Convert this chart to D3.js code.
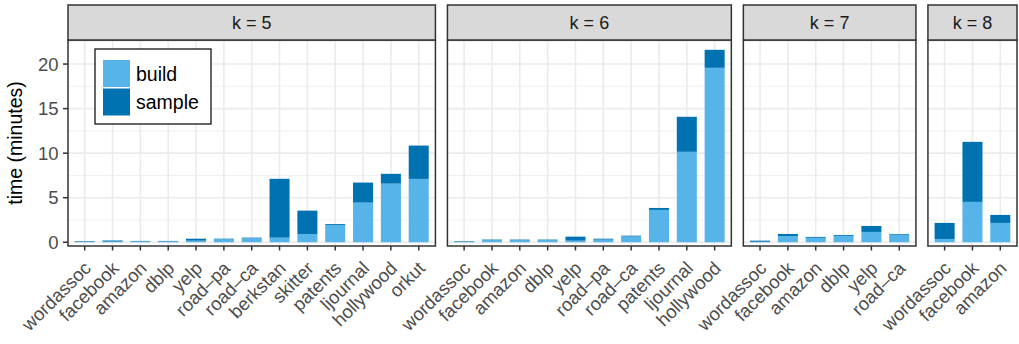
<!DOCTYPE html>
<html lang="en">
<head>
<meta charset="UTF-8">
<title>build / sample time by k</title>
<script src="https://d3js.org/d3.v7.min.js"></script>
<style>
  body { margin: 0; background: #fff; }
  text { font-family: "Liberation Sans", Arial, sans-serif; }
  .tick-label { fill: #4d4d4d; font-size: 18.5px; }
  .strip-label { fill: #1a1a1a; font-size: 18px; }
  .axis-title { fill: #000; font-size: 19.5px; }
  .legend-label { fill: #000; font-size: 19.5px; }
</style>
</head>
<body>
<script>
// ---- data (minutes) ----
var panels = ["k = 5", "k = 6", "k = 7", "k = 8"];

var cats5 = ["wordassoc", "facebook", "amazon", "dblp", "yelp", "road\u2013pa", "road\u2013ca",
             "berkstan", "skitter", "patents", "ljournal", "hollywood", "orkut"];
var build5  = [0.03, 0.08, 0.10, 0.10, 0.18, 0.33, 0.45, 0.52, 0.93, 1.95, 4.45, 6.58, 7.11];
var sample5 = [0.07, 0.12, 0.05, 0.05, 0.22, 0.07, 0.07, 6.60, 2.62, 0.10, 2.25, 1.10, 3.74];

var cats6 = ["wordassoc", "facebook", "amazon", "dblp", "yelp", "road\u2013pa", "road\u2013ca",
             "patents", "ljournal", "hollywood"];
var build6  = [0.03, 0.22, 0.22, 0.22, 0.18, 0.30, 0.65, 3.63, 10.15, 19.58];
var sample6 = [0.07, 0.08, 0.08, 0.08, 0.45, 0.10, 0.09, 0.22, 3.93, 2.02];

var cats7 = ["wordassoc", "facebook", "amazon", "dblp", "yelp", "road\u2013ca"];
var build7  = [0.05, 0.70, 0.50, 0.72, 1.16, 0.85];
var sample7 = [0.13, 0.23, 0.10, 0.10, 0.67, 0.08];

var cats8 = ["wordassoc", "facebook", "amazon"];
var build8  = [0.37, 4.53, 2.17];
var sample8 = [1.80, 6.74, 0.90];

var yTicks = [0, 5, 10, 15, 20];
var yMinor = [2.5, 7.5, 12.5, 17.5, 22.5];
var seriesNames = ["build", "sample"];
var colors = {build: "#56B4E9", sample: "#0072B2"};

var facetData = [
  {label: panels[0], cats: cats5, build: build5, sample: sample5},
  {label: panels[1], cats: cats6, build: build6, sample: sample6},
  {label: panels[2], cats: cats7, build: build7, sample: sample7},
  {label: panels[3], cats: cats8, build: build8, sample: sample8}
];

// ---- layout ----
var W = 1019, H = 344;
var plotLeft = 68, plotRight = 1017, gap = 12;
var stripTop = 5, stripH = 35;
var panelTop = stripTop + stripH, panelBottom = 246;
var expandCat = 0.6;

var svg = d3.select("body").append("svg")
  .attr("width", W).attr("height", H);

var y = d3.scaleLinear().domain([-0.42, 22.7]).range([panelBottom, panelTop]);

var units = facetData.map(function (f) { return f.cats.length - 1 + 2 * expandCat; });
var totalUnits = d3.sum(units);
var unitPx = (plotRight - plotLeft - gap * (facetData.length - 1)) / totalUnits;

var x0 = plotLeft;
facetData.forEach(function (f, i) {
  var pw = units[i] * unitPx;
  var g = svg.append("g").attr("transform", "translate(" + x0 + ",0)");

  var x = d3.scalePoint().domain(f.cats)
    .range([expandCat * unitPx, pw - expandCat * unitPx]);
  var barW = unitPx * 0.72;

  // panel background + grid
  g.append("rect").attr("x", 0).attr("y", panelTop).attr("width", pw)
    .attr("height", panelBottom - panelTop).attr("fill", "#fff");

  g.selectAll(".minor").data(yMinor).enter().append("line")
    .attr("x1", 0).attr("x2", pw)
    .attr("y1", function (d) { return y(d); }).attr("y2", function (d) { return y(d); })
    .attr("stroke", "#ebebeb").attr("stroke-width", 0.8);
  g.selectAll(".major").data(yTicks).enter().append("line")
    .attr("x1", 0).attr("x2", pw)
    .attr("y1", function (d) { return y(d); }).attr("y2", function (d) { return y(d); })
    .attr("stroke", "#ebebeb").attr("stroke-width", 1.6);
  g.selectAll(".vgrid").data(f.cats).enter().append("line")
    .attr("x1", function (d) { return x(d); }).attr("x2", function (d) { return x(d); })
    .attr("y1", panelTop).attr("y2", panelBottom)
    .attr("stroke", "#ebebeb").attr("stroke-width", 1.6);

  // stacked bars
  var rows = f.cats.map(function (c, j) { return {cat: c, build: f.build[j], sample: f.sample[j]}; });
  var stack = d3.stack().keys(seriesNames)(rows);
  stack.forEach(function (layer) {
    g.selectAll(".bar-" + layer.key).data(layer).enter().append("rect")
      .attr("x", function (d) { return x(d.data.cat) - barW / 2; })
      .attr("width", barW)
      .attr("y", function (d) { return y(d[1]); })
      .attr("height", function (d) { return y(d[0]) - y(d[1]); })
      .attr("fill", colors[layer.key]);
  });

  // panel border
  g.append("rect").attr("x", 0).attr("y", panelTop).attr("width", pw)
    .attr("height", panelBottom - panelTop)
    .attr("fill", "none").attr("stroke", "#333").attr("stroke-width", 1.5);

  // strip
  g.append("rect").attr("x", 0).attr("y", stripTop).attr("width", pw).attr("height", stripH)
    .attr("fill", "#d9d9d9").attr("stroke", "#333").attr("stroke-width", 1.5);
  g.append("text").attr("class", "strip-label")
    .attr("x", pw / 2).attr("y", stripTop + stripH / 2).attr("dy", "0.36em")
    .attr("text-anchor", "middle").text(f.label);

  // x axis ticks + labels
  g.selectAll(".xtick").data(f.cats).enter().append("line")
    .attr("x1", function (d) { return x(d); }).attr("x2", function (d) { return x(d); })
    .attr("y1", panelBottom).attr("y2", panelBottom + 4.5)
    .attr("stroke", "#333").attr("stroke-width", 1.5);
  g.selectAll(".xlab").data(f.cats).enter().append("text")
    .attr("class", "tick-label")
    .attr("text-anchor", "end")
    .attr("transform", function (d) { return "translate(" + (x(d) - 2) + "," + (panelBottom + 14) + ") rotate(-45)"; })
    .attr("dy", "0.72em")
    .text(function (d) { return d; });

  // y axis on first panel only
  if (i === 0) {
    g.selectAll(".ytick").data(yTicks).enter().append("line")
      .attr("x1", -5).attr("x2", 0)
      .attr("y1", function (d) { return y(d); }).attr("y2", function (d) { return y(d); })
      .attr("stroke", "#333").attr("stroke-width", 1.5);
    g.selectAll(".ylab").data(yTicks).enter().append("text")
      .attr("class", "tick-label")
      .attr("x", -9.5).attr("y", function (d) { return y(d); }).attr("dy", "0.36em")
      .attr("text-anchor", "end").text(function (d) { return d; });
  }

  x0 += pw + gap;
});

// y axis title
svg.append("text").attr("class", "axis-title")
  .attr("transform", "translate(15," + ((panelTop + panelBottom) / 2) + ") rotate(-90)")
  .attr("text-anchor", "middle").attr("dy", "0.36em")
  .text("time (minutes)");

// legend
var lg = svg.append("g").attr("transform", "translate(95,49)");
lg.append("rect").attr("width", 116).attr("height", 75)
  .attr("fill", "#fff").attr("stroke", "#000").attr("stroke-width", 1.2);
seriesNames.forEach(function (s, k) {
  lg.append("rect").attr("x", 8).attr("y", 11 + k * 28.5).attr("width", 27).attr("height", 27)
    .attr("fill", colors[s]);
  lg.append("text").attr("class", "legend-label")
    .attr("x", 41).attr("y", 24.5 + k * 28.5).attr("dy", "0.36em").text(s);
});
</script>
</body>
</html>
